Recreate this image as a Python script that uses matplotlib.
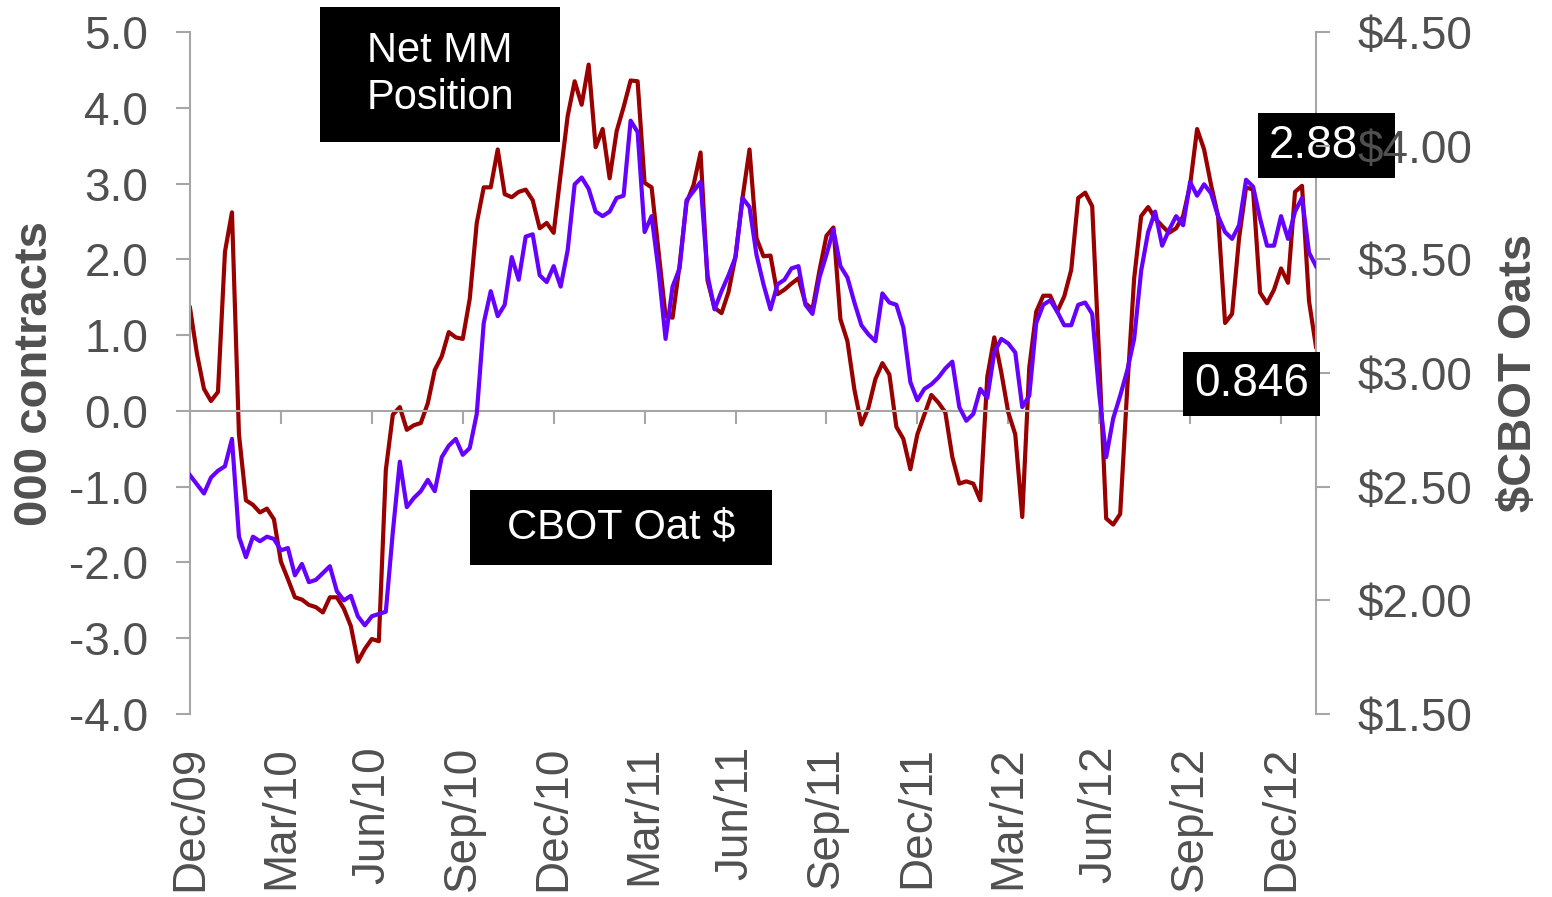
import matplotlib
matplotlib.use("Agg")
import matplotlib.pyplot as plt
from matplotlib.patches import Rectangle
from matplotlib.ticker import FuncFormatter

plt.rcParams['font.family'] = ['Liberation Sans', 'DejaVu Sans']

# weekly series, Dec/09 .. Jan/13 (index = week number)
net_mm = [1.36, 0.75, 0.29, 0.13, 0.25, 2.1, 2.62, -0.31, -1.18, -1.24,
          -1.34, -1.29, -1.43, -1.99, -2.22, -2.46, -2.49, -2.56, -2.59, -2.66,
          -2.46, -2.46, -2.61, -2.84, -3.31, -3.14, -3.01, -3.04, -0.78, -0.05,
          0.05, -0.25, -0.19, -0.16, 0.1, 0.54, 0.72, 1.04, 0.97, 0.95,
          1.48, 2.48, 2.95, 2.95, 3.45, 2.86, 2.82, 2.89, 2.92, 2.78,
          2.41, 2.48, 2.35, 3.13, 3.89, 4.35,
          4.04, 4.57, 3.48, 3.72, 3.07, 3.69, 4.01, 4.36, 4.35, 3.01,
          2.95, 2.1, 1.25, 1.23, 1.92, 2.75, 2.98, 3.41, 1.72, 1.36,
          1.29, 1.57, 2.04, 2.81, 3.45, 2.28, 2.04, 2.05, 1.54, 1.6,
          1.68, 1.75, 1.42, 1.34, 1.85, 2.31, 2.42, 1.21, 0.92, 0.28,
          -0.18, 0.04, 0.42, 0.63, 0.48, -0.21, -0.37, -0.77, -0.31, -0.05,
          0.21, 0.11, -0.02, -0.61, -0.96,
          -0.93, -0.96, -1.18, 0.45, 0.97, 0.51, -0.02, -0.31, -1.4, 0.57,
          1.31, 1.52, 1.52, 1.31, 1.51, 1.86, 2.81, 2.88, 2.7, 0.69,
          -1.42, -1.5, -1.36, 0.28, 1.75, 2.57, 2.69, 2.54, 2.44, 2.35,
          2.41, 2.57, 2.98, 3.72, 3.45, 2.98, 2.57, 1.16, 1.28, 2.28,
          2.95, 2.92, 1.56, 1.42, 1.6, 1.88, 1.69, 2.89, 2.97, 1.45, 0.846]

oat_price = [2.55, 2.51, 2.47, 2.54, 2.57, 2.59, 2.71, 2.28, 2.19, 2.28,
             2.26, 2.28, 2.27, 2.22, 2.23, 2.11, 2.16, 2.08, 2.09, 2.12,
             2.15, 2.04, 2.0, 2.02, 1.93, 1.89, 1.93, 1.94, 1.95, 2.3,
             2.61, 2.41, 2.45, 2.48, 2.53, 2.48, 2.63, 2.68, 2.71, 2.64,
             2.67, 2.82, 3.22, 3.36, 3.25, 3.3, 3.51, 3.41, 3.6, 3.61,
             3.43, 3.4, 3.47, 3.38,
             3.54, 3.83, 3.86, 3.81, 3.71, 3.69, 3.71, 3.77, 3.78, 4.11,
             4.06, 3.62, 3.69, 3.45, 3.15, 3.38, 3.46, 3.76, 3.8, 3.84,
             3.43, 3.28, 3.36, 3.43, 3.51, 3.77, 3.73, 3.52, 3.39, 3.28,
             3.39, 3.41, 3.46, 3.47, 3.3, 3.26, 3.42, 3.52, 3.63, 3.47,
             3.42, 3.31, 3.21, 3.17, 3.14, 3.35, 3.31, 3.3, 3.2, 2.96,
             2.88, 2.93, 2.95, 2.98, 3.02, 3.05, 2.85,
             2.79, 2.82, 2.93, 2.89, 3.09, 3.15, 3.13, 3.09, 2.85, 2.9,
             3.22, 3.3, 3.32, 3.27, 3.21, 3.21, 3.3, 3.31, 3.26, 2.91,
             2.63, 2.8, 2.9, 3.01, 3.15, 3.45, 3.62, 3.71, 3.56, 3.63,
             3.69, 3.65, 3.84, 3.78, 3.83, 3.79, 3.69, 3.62, 3.59, 3.65,
             3.85, 3.82, 3.68, 3.56, 3.56, 3.69, 3.59, 3.71, 3.77, 3.53, 3.47]

tick_weeks = list(range(0, 157, 13))
tick_labels = ['Dec/09', 'Mar/10', 'Jun/10', 'Sep/10', 'Dec/10', 'Mar/11', 'Jun/11',
               'Sep/11', 'Dec/11', 'Mar/12', 'Jun/12', 'Sep/12', 'Dec/12']

W, H = 1552, 897
TXT = '#505050'
GRID = '#a6a6a6'

fig = plt.figure(figsize=(W / 100, H / 100), dpi=100)
ax = fig.add_axes([190 / W, 1 - 714 / H, (1316 - 190) / W, (714 - 32) / H])
ax2 = ax.twinx()

weeks = list(range(len(net_mm)))
ax.plot(weeks, net_mm, color='#990000', lw=3.0, solid_joinstyle='round')
ax2.plot(range(len(oat_price)), oat_price, color='#6600ff', lw=3.0, solid_joinstyle='round')

ax.set_xlim(0, 161)
ax.set_ylim(-4, 5)
ax.set_yticks(range(-4, 6))
ax.yaxis.set_major_formatter(FuncFormatter(lambda v, p: f'{v:.1f}'))
ax2.set_ylim(1.5, 4.5)
ax2.set_yticks([1.5, 2.0, 2.5, 3.0, 3.5, 4.0, 4.5])
ax2.yaxis.set_major_formatter(FuncFormatter(lambda v, p: f'${v:.2f}'))

ax.spines['top'].set_visible(False)
ax.spines['right'].set_visible(False)
for s in ['top', 'bottom', 'left']:
    ax2.spines[s].set_visible(False)
ax.spines['left'].set_color(GRID)
ax.spines['left'].set_linewidth(1.5)
ax.spines['bottom'].set_position(('data', 0))
ax.spines['bottom'].set_color(GRID)
ax.spines['bottom'].set_linewidth(1.5)
ax2.spines['right'].set_color(GRID)
ax2.spines['right'].set_linewidth(1.5)
ax2.spines['right'].set_zorder(0.5)

ax.tick_params(axis='y', direction='out', length=10, width=1.5, color=GRID,
               labelsize=33, labelcolor=TXT, pad=20)
ax2.tick_params(axis='y', direction='out', length=10, width=1.5, color=GRID,
                labelsize=33, labelcolor=TXT, pad=20)
ax.set_xticks(tick_weeks)
ax.tick_params(axis='x', direction='out', length=9, width=1.5, color=GRID,
               labelbottom=False)

sec = ax.secondary_xaxis(0)
sec.set_xticks(tick_weeks, labels=tick_labels)
sec.tick_params(axis='x', length=0, pad=23, labelsize=33, labelcolor=TXT, rotation=90)
sec.spines['bottom'].set_visible(False)

ax.set_ylabel('000 contracts', fontsize=34, fontweight='bold', color=TXT)
ax.yaxis.set_label_coords(-0.118, 0.5)
ax2.set_ylabel('$CBOT Oats', fontsize=34, fontweight='bold', color=TXT)
ax2.yaxis.set_label_coords(1.161, 0.5)


def label_box(x0, y0, x1, y1, text, size, z, tx=None):
    ax2.add_patch(Rectangle((x0 / W, 1 - y1 / H), (x1 - x0) / W, (y1 - y0) / H,
                            transform=fig.transFigure, facecolor='black',
                            edgecolor='none', clip_on=False, zorder=z))
    cx = (x0 + x1) / 2 if tx is None else tx
    ax2.text(cx / W, 1 - (y0 + y1) / 2 / H, text, transform=fig.transFigure,
             ha='center', va='center', color='white', fontsize=size,
             clip_on=False, zorder=z + 0.1, linespacing=1.2)


label_box(320, 7, 560, 142, 'Net MM\nPosition', 30, 3)
label_box(470, 490, 772, 565, 'CBOT Oat $', 30, 3)
label_box(1258, 113, 1395, 178, '2.88', 33, 1.0, tx=1313)
label_box(1183, 352, 1320, 416, '0.846', 33, 3)

fig.savefig('out.png', dpi=100, facecolor='white')
